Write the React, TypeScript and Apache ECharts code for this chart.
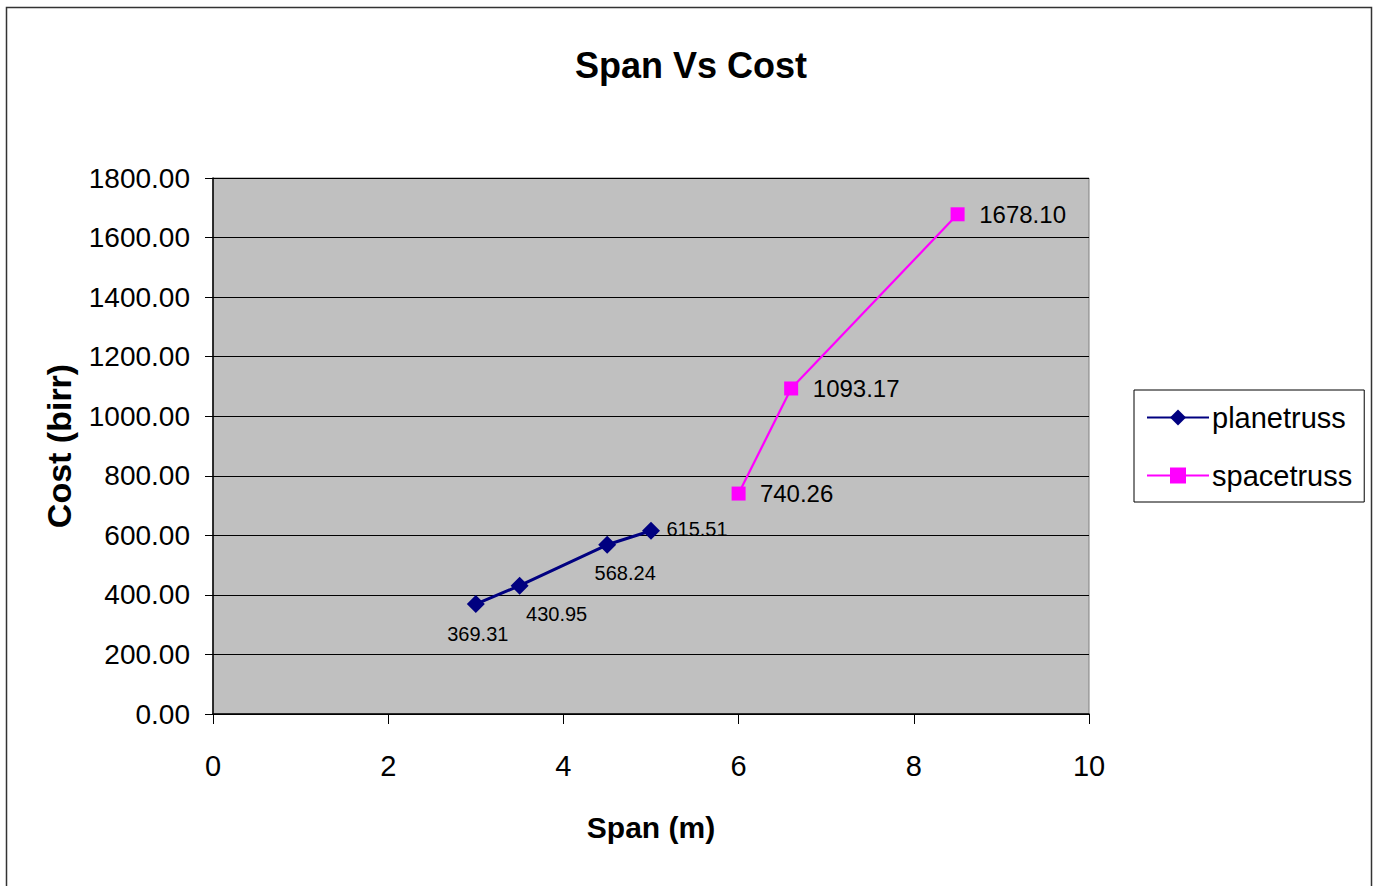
import React, { useEffect, useRef } from "react";
import * as echarts from "echarts";

const planeSpan = [3, 3.5, 4.5, 5];
const planeCost = [369.31, 430.95, 568.24, 615.51];
const spaceSpan = [6, 6.6, 8.5];
const spaceCost = [740.26, 1093.17, 1678.1];
const planeLabelOffsets = [[2, 30], [37, 28], [18, 28], [46, -2]];
const spaceLabelOffsets = [[58, 0], [65, 0], [65, 0]];

const SANS = "'Liberation Sans', Arial, sans-serif";

export default function App() {
  const ref = useRef<HTMLDivElement>(null);
  useEffect(() => {
    if (!ref.current) return;
    const chart = echarts.init(ref.current, null, { renderer: "svg" });
    const planeData = planeSpan.map((x, i) => ({
      value: [x, planeCost[i]],
      label: { offset: planeLabelOffsets[i] },
    }));
    const spaceData = spaceSpan.map((x, i) => ({
      value: [x, spaceCost[i]],
      label: { offset: spaceLabelOffsets[i] },
    }));
    chart.setOption({
      animation: false,
      backgroundColor: "#fff",
      title: {
        text: "Span Vs Cost",
        left: 686,
        textAlign: "center",
        top: 42,
        textStyle: { fontFamily: SANS, fontWeight: "bold", fontSize: 36, color: "#000" },
      },
      graphic: [
        {
          type: "rect",
          shape: { x: 6.5, y: 7.5, width: 1365, height: 900 },
          style: { fill: "none", stroke: "#333", lineWidth: 1.5 },
          silent: true,
        },
      ],
      legend: {
        orient: "vertical",
        left: 1134,
        top: 390,
        padding: [13, 12, 12, 12],
        backgroundColor: "#fff",
        borderColor: "#000",
        borderWidth: 1,
        itemWidth: 62,
        itemHeight: 20,
        itemGap: 29,
        textStyle: { fontFamily: SANS, fontSize: 29, color: "#000", padding: [0, 0, 0, -2] },
        data: ["planetruss", "spacetruss"],
      },
      grid: {
        left: 213,
        top: 178,
        width: 876,
        height: 536,
        show: true,
        backgroundColor: "#C0C0C0",
        borderColor: "#808080",
        borderWidth: 1,
      },
      xAxis: {
        type: "value",
        min: 0,
        max: 10,
        interval: 2,
        name: "Span (m)",
        nameLocation: "middle",
        nameGap: 98,
        nameTextStyle: { fontFamily: SANS, fontWeight: "bold", fontSize: 30, color: "#000" },
        axisLine: { show: true, lineStyle: { color: "#000", width: 1.5 } },
        axisTick: { show: true, length: 10, lineStyle: { color: "#000" } },
        axisLabel: { fontFamily: SANS, fontSize: 29, color: "#000", margin: 37 },
        splitLine: { show: false },
      },
      yAxis: {
        type: "value",
        min: 0,
        max: 1800,
        interval: 200,
        name: "Cost (birr)",
        nameLocation: "middle",
        nameGap: 137,
        nameTextStyle: { fontFamily: SANS, fontWeight: "bold", fontSize: 34, color: "#000" },
        axisLine: { show: true, lineStyle: { color: "#000", width: 1.5 } },
        axisTick: { show: true, length: 8, lineStyle: { color: "#000" } },
        axisLabel: {
          fontFamily: SANS,
          fontSize: 28,
          color: "#000",
          margin: 23,
          formatter: (v: number) => v.toFixed(2),
        },
        splitLine: { show: true, lineStyle: { color: "#000", width: 1 } },
      },
      series: [
        {
          name: "planetruss",
          type: "line",
          data: planeData,
          symbol: "diamond",
          symbolSize: 18,
          itemStyle: { color: "#000080" },
          lineStyle: { color: "#000080", width: 3 },
          label: {
            show: true,
            position: "inside",
            fontFamily: SANS,
            fontSize: 20,
            color: "#000",
            formatter: (p: any) => p.value[1].toFixed(2),
          },
        },
        {
          name: "spacetruss",
          type: "line",
          data: spaceData,
          symbol: "rect",
          symbolSize: 14,
          itemStyle: { color: "#FF00FF" },
          lineStyle: { color: "#FF00FF", width: 2.2 },
          label: {
            show: true,
            position: "inside",
            fontFamily: SANS,
            fontSize: 24,
            color: "#000",
            formatter: (p: any) => p.value[1].toFixed(2),
          },
        },
      ],
    });
    return () => chart.dispose();
  }, []);
  return (
    <div
      ref={ref}
      style={{ position: "absolute", left: 0, top: 0, width: 1377, height: 886 }}
    />
  );
}
